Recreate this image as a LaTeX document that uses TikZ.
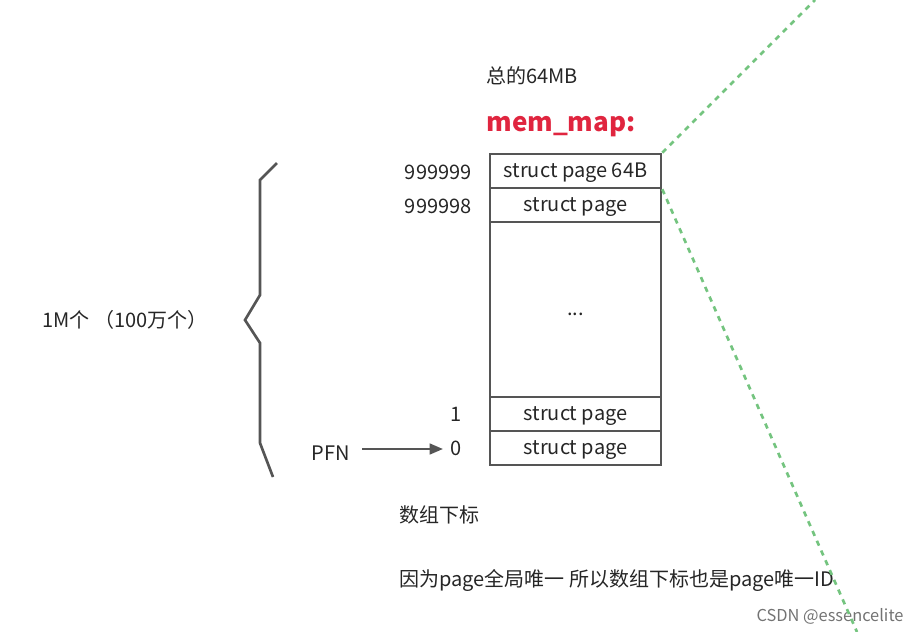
\documentclass[tikz,border=0pt]{standalone}
\usepackage{fontspec}
\setmainfont{Noto Sans CJK SC}
\usetikzlibrary{arrows.meta,positioning}
\definecolor{boxgray}{HTML}{555555}
\definecolor{memred}{HTML}{E0253F}
\definecolor{linkgreen}{HTML}{74C47F}
\tikzset{every picture/.style={line width=0.75pt}}
\tikzset{
  pagerow/.style={draw=boxgray,line width=1.9pt,minimum width=128.25pt,minimum height=25.5pt,inner sep=0pt,text height=11pt,text depth=2pt,font=\fontsize{15}{17}\selectfont,text=black!85},
  idx/.style={font=\fontsize{15}{17}\selectfont,text=black!85,inner sep=0pt},
  plain/.style={font=\fontsize{15}{17}\selectfont,text=black!85,inner sep=0pt},
  maplink/.style={draw=linkgreen,line width=2pt,dash pattern=on 4pt off 4pt}
}
\begin{document}
\begin{tikzpicture}[x=0.75pt,y=0.75pt,yscale=-1,xscale=1]
    \useasboundingbox (0,0) rectangle (918,632);
    %Array rows
    \node[pagerow] (p999999) at (575.5,171) {struct page 64B};
    \node[pagerow] (p999998) at (575.5,205) {struct page};
    \node[pagerow,minimum height=131.25pt] (pdots) at (575.5,309.5) {...};
    \node[pagerow] (p1) at (575.5,414) {struct page};
    \node[pagerow] (p0) at (575.5,448) {struct page};
    %Titles
    \node[plain] (total) at (532,76) {总的64MB};
    \node[font=\bfseries\fontsize{19.5}{22}\selectfont,text=memred,inner sep=0pt] (memmap) at (561,127) {mem\_map:};
    %Indices
    \node[idx,anchor=east] (i999999) at (472,172) {999999};
    \node[idx,anchor=east] (i999998) at (472,206) {999998};
    \node[idx,anchor=east] (i1) at (462,414) {1};
    \node[idx,anchor=east] (i0) at (462,448) {0};
    \node[plain] (pfn) at (331,453) {PFN};
    %Arrow
    \coordinate (pfnstart) at (362,449);
    \coordinate (pfnend) at (443,449);
    \draw[boxgray,line width=1.8pt,-{Triangle[length=10pt,width=8pt]}] (pfnstart) -- (pfnend);
    %Brace
    \draw[boxgray,line width=2pt] (277,163) -- (260,180) -- (260,295) -- (245,320) -- (260,343) -- (260,443) -- (273,477);
    \node[plain] (count) at (125,320) {1M个 （100万个）};
    %Notes
    \node[plain,anchor=west] (subscript) at (399,515) {数组下标};
    \node[plain,anchor=west] (note) at (399,580) {因为page全局唯一 所以数组下标也是page唯一ID};
    \node[font=\fontsize{12.3}{14}\selectfont,text=black!55,inner sep=0pt,anchor=east] (mark) at (904,616) {CSDN @essencelite};
    %Green links
    \coordinate (topend) at (815,0);
    \coordinate (botend) at (857,632);
    \draw[maplink] (p999999.north east) -- (topend);
    \draw[maplink] (p999999.south east) -- (botend);
\end{tikzpicture}
\end{document}
